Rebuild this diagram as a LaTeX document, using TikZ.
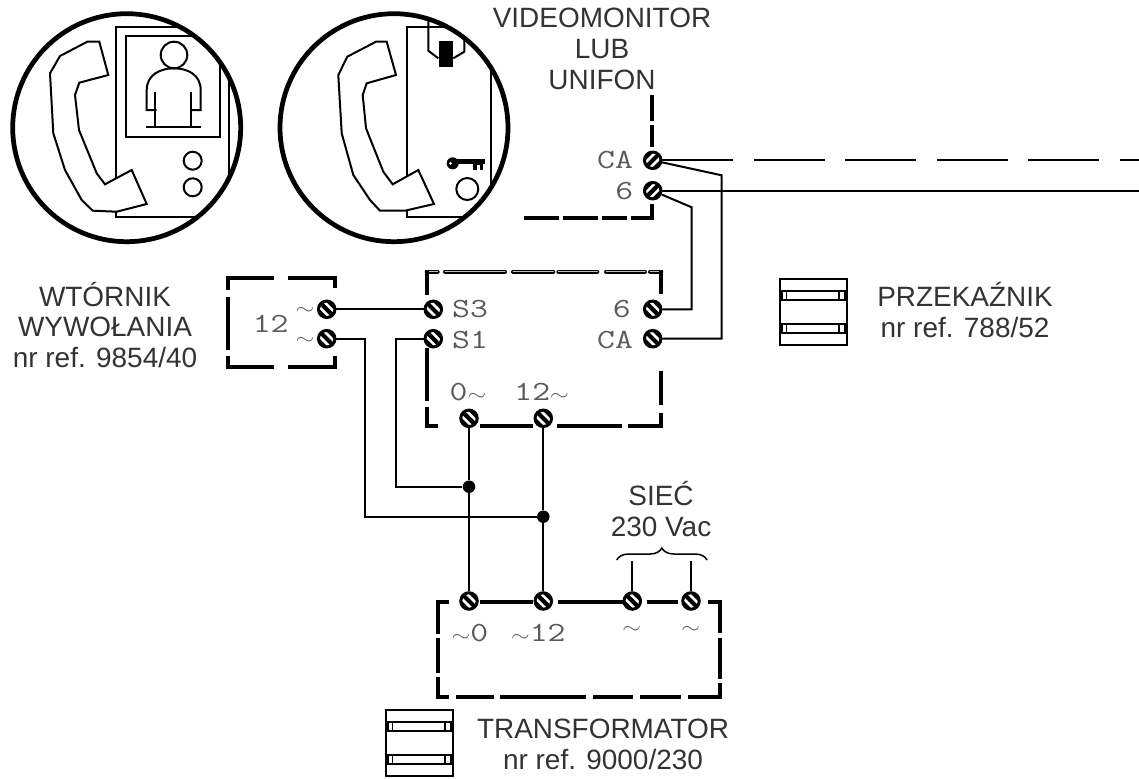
\documentclass[tikz,border=0pt]{standalone}
\usepackage{fontspec}
\setmainfont{Liberation Sans}
\usetikzlibrary{decorations.pathreplacing, positioning}
\definecolor{labeltext}{HTML}{333333}
\definecolor{termtext}{HTML}{5A5A5A}
\newcommand{\termtilde}{\ensuremath{\scriptstyle\sim}}
\tikzset{
  termbase/.style={circle,draw,line width=0.06cm,minimum size=0.33cm,inner sep=0pt,fill=black},
  termdown/.style={termbase,path picture={
    \draw[white,line width=0.05cm] ([shift={(-8,-3)}]path picture bounding box.center) -- ([shift={(3,8)}]path picture bounding box.center);
    \draw[white,line width=0.05cm] ([shift={(-3,-8)}]path picture bounding box.center) -- ([shift={(8,3)}]path picture bounding box.center);}},
  termup/.style={termbase,path picture={
    \draw[white,line width=0.05cm] ([shift={(-8,3)}]path picture bounding box.center) -- ([shift={(3,-8)}]path picture bounding box.center);
    \draw[white,line width=0.05cm] ([shift={(-3,8)}]path picture bounding box.center) -- ([shift={(8,-3)}]path picture bounding box.center);}},
  wire/.style={line width=0.04cm},
  boxline/.style={line width=0.08cm},
  boxhollow/.style={line width=0.03cm,double=lightgray,double distance=0.02cm,line cap=round},
  symline/.style={line width=0.04cm},
  ringline/.style={line width=0.095cm},
  junction/.style={circle,fill=black,inner sep=0pt,minimum size=0.25cm},
  labeltxt/.style={text=labeltext,align=center,font=\fontsize{15.9}{17.6}\selectfont},
  termlabel/.style={text=termtext,inner sep=0pt,font=\fontsize{15.8}{16}\selectfont\ttfamily,xscale=1.25,transform shape},
  coilsym/.pic={
    \draw[symline] (0,0) rectangle (66.7,66);
    \draw[symline] (-1,12) -- (68,12) (-1,21) -- (68,21) (-1,45) -- (68,45) (-1,54) -- (68,54);
    \draw[line width=0.025cm] (2,12) -- (2,21) (6.7,12) -- (6.7,21) (59,12) -- (59,21) (65,12) -- (65,21);
    \draw[line width=0.025cm] (2,45) -- (2,54) (6.7,45) -- (6.7,54) (59,45) -- (59,54) (65,45) -- (65,54);
  }
}

\begin{document}
\begin{tikzpicture}[x=0.02cm,y=-0.02cm]
\useasboundingbox (0,0) rectangle (1139,778);
% left monitor
\begin{scope}
\clip (126.7,127.7) circle (114);
\draw[symline] (115.7,27.3) rectangle (229.3,216.7);
\draw[symline] (125.7,36) rectangle (220,136.7);
\end{scope}
\draw[symline] (174,55) circle (13.3);
\draw[symline] (156.7,110) -- (146.7,110) -- (146.7,90) .. controls (146.7,75) and (160,68.3) .. (174,68.3) .. controls (188,68.3) and (200.7,75) .. (200.7,90) -- (200.7,110) -- (190,110);
\draw[symline] (155,91.7) -- (155,128.3) (190.7,91.7) -- (190.7,128.3) (146,127.3) -- (201,127.3);
\draw[symline] (192.7,160.7) circle (9) (192.7,187.3) circle (9);
\draw[symline,fill=white] (87.3,41.7) -- (99.3,41.7) -- (108.3,75) -- (79.3,82.7) -- (75,95) -- (79,130) -- (96.7,173.3) -- (105,184.3) -- (131.7,170) -- (146.7,204) -- (116.7,211.7) -- (92.7,210.7) -- (81.7,200) -- (65,170) -- (53.3,133.3) -- (50,73.3) -- (60,56) -- cycle;
\draw[ringline] (126.7,127.7) circle (114);
% right monitor
\begin{scope}
\clip (394,127.7) circle (114);
\draw[symline] (407.3,27.3) rectangle (490.7,217.3);
\draw[symline] (428.3,20) -- (428.3,50.7) -- (438.3,58.3) (453.3,58.3) -- (464.3,51.7) -- (464.3,20);
\end{scope}
\fill (439.3,40.7) rectangle (453.3,66.7);
\fill (452.7,163.3) circle (6);
\fill[white] (450.5,163.3) circle (1.5);
\fill (456,159.3) rectangle (485,163.5);
\fill (473.3,163) rectangle (482.7,170);
\fill[white] (476.5,164.5) rectangle (479.5,170);
\draw[symline] (467.3,189) circle (11);
\draw[symline,fill=white] (376,41.7) -- (386.7,41.7) -- (396,75) -- (366.7,83.3) -- (362.7,95) -- (366,128.3) -- (383.3,171.7) -- (392.7,184.3) -- (418.3,170) -- (434,204) -- (405,210.7) -- (380,210.7) -- (370,200) -- (353.3,175) -- (341.7,133.3) -- (338.3,75) -- (347.3,56.7) -- cycle;
\draw[ringline] (394,127.7) circle (114);
% terminals
\node[termup] (tCAmon) at (652.7,160.3) {};
\node[termup] (tSixmon) at (652.7,190.7) {};
\node[termdown] (tWup) at (326.7,309.3) {};
\node[termdown] (tWlo) at (326.7,338.7) {};
\node[termdown] (tSthree) at (433.3,309.3) {};
\node[termdown] (tSone) at (433.3,338.7) {};
\node[termdown] (tSix) at (652.7,309.3) {};
\node[termdown] (tCA) at (652.7,338.7) {};
\node[termdown] (tZero) at (469,418.3) {};
\node[termdown] (tTwelve) at (543.3,418.3) {};
\node[termdown] (tTrZero) at (469,601) {};
\node[termdown] (tTrTwelve) at (543.3,601) {};
\node[termdown] (tMainA) at (632.3,601) {};
\node[termdown] (tMainB) at (691,601) {};
\node[junction] (jZero) at (469,486.7) {};
\node[junction] (jTwelve) at (543.3,516.7) {};
% free ends and corners
\coordinate (endCA) at (1139,160.3);
\coordinate (endSix) at (1139,190.7);
\coordinate (kCA) at (721.7,175.3);
\coordinate (kSix) at (691.7,207.3);
\coordinate (kWlo) at (365.3,516.7);
\coordinate (kSone) at (395.7,486.7);
\coordinate (endMainA) at (632.3,560.7);
\coordinate (endMainB) at (691,560.7);
% wires
\draw[wire,dash pattern=on 1.42cm off 0.41cm] (tCAmon) -- (endCA);
\draw[wire] (tSixmon) -- (endSix);
\draw[wire] (tCAmon) -- (kCA) |- (tCA);
\draw[wire] (tSixmon) -- (kSix) |- (tSix);
\draw[wire] (tWup) -- (tSthree);
\draw[wire] (tWlo) -| (kWlo) -- (jTwelve);
\draw[wire] (tSone) -| (kSone) -- (jZero);
\draw[wire] (tZero) -- (jZero) -- (tTrZero);
\draw[wire] (tTwelve) -- (jTwelve) -- (tTrTwelve);
\draw[wire] (tMainA) -- (endMainA);
\draw[wire] (tMainB) -- (endMainB);
\draw[line width=0.03cm,decorate,decoration={brace,amplitude=0.24cm}] (616.7,560) -- (707,560);
% dashed boxes
\draw[boxline] (652.3,95) -- (652.3,120.7) (652.3,125) -- (652.3,146.7);
\draw[boxline] (652.3,204) -- (652.3,217.7) -- (630.7,217.7) (627.3,217.7) -- (601.7,217.7) (598.3,217.7) -- (562.7,217.7) (559.3,217.7) -- (524,217.7);
\draw[boxline] (228,290) -- (228,278) -- (274,278) (288.3,278) -- (334.7,278) -- (334.7,288.3) (228,296.7) -- (228,350) (228,356) -- (228,367.3) -- (274,367.3) (288.3,367.3) -- (334.7,367.3) -- (334.7,356);
\draw[boxhollow] (426.7,271.7) -- (437.7,271.7) (445,271.7) -- (505,271.7) (513,271.7) -- (553.3,271.7) (558.3,271.7) -- (597.3,271.7) (606,271.7) -- (645,271.7) (650,271.7) -- (661.3,271.7);
\draw[boxline] (426.7,295) -- (426.7,270) (661.3,294.3) -- (661.3,270);
\draw[boxline] (426.7,348.3) -- (426.7,400.7) (426.7,406.7) -- (426.7,425.7) -- (438.3,425.7) (480,425.7) -- (533,425.7) (557.3,425.7) -- (621.7,425.7) (628.3,425.7) -- (661.3,425.7) -- (661.3,412.7) (661.3,405) -- (661.3,370.7);
\draw[boxline] (438.3,634) -- (438.3,601.7) -- (449.3,601.7) (480,601.7) -- (533.3,601.7) (557.7,601.7) -- (623,601.7) (646.7,601.7) -- (678,601.7) (708.3,601.7) -- (720,601.7) -- (720,633.3);
\draw[boxline] (438.3,638.3) -- (438.3,673.3) (438.3,676.7) -- (438.3,696.7) -- (449.3,696.7) (456,696.7) -- (494,696.7) (500,696.7) -- (586,696.7) (593.3,696.7) -- (632.7,696.7) (640,696.7) -- (680.7,696.7) (687.7,696.7) -- (720,696.7) -- (720,683.3) (720,679.3) -- (720,638.3);
% symbols
\pic at (780,279) {coilsym};
\pic at (386,710) {coilsym};
% terminal labels
\node[termlabel] (lCAmon) at (615,160) {CA};
\node[termlabel] (lSixmon) at (624.3,190.7) {6};
\node[termlabel] (lTwelveW) at (270.7,324) {12};
\node[termlabel] (lWup) at (305,311) {\termtilde};
\node[termlabel] (lWlo) at (305,340.7) {\termtilde};
\node[termlabel] (lSthree) at (470,309.3) {S3};
\node[termlabel] (lSone) at (470,340) {S1};
\node[termlabel] (lSix) at (621.7,309) {6};
\node[termlabel] (lCA) at (615,340) {CA};
\node[termlabel] (lZero) at (468,391.7) {0\termtilde};
\node[termlabel] (lTwelve) at (541.7,391.7) {12\termtilde};
\node[termlabel] (lTrZero) at (470,632.7) {\termtilde0};
\node[termlabel] (lTrTwelve) at (538.3,632.7) {\termtilde12};
\node[termlabel] (lMainA) at (631.7,630) {\termtilde};
\node[termlabel] (lMainB) at (690.7,630) {\termtilde};
% captions
\node[labeltxt] (capMonitor) at (602,49) {VIDEOMONITOR\\LUB\\UNIFON};
\node[labeltxt] (capSecond) at (105,325) {WTÓRNIK\\WYWOŁANIA\\nr ref. 9854/40};
\node[labeltxt] (capRelay) at (965,310) {PRZEKAŹNIK\\nr ref. 788/52};
\node[labeltxt] (capMains) at (661,509) {SIEĆ\\230 Vac};
\node[labeltxt] (capTrafo) at (603,744) {TRANSFORMATOR\\nr ref. 9000/230};
\end{tikzpicture}
\end{document}
